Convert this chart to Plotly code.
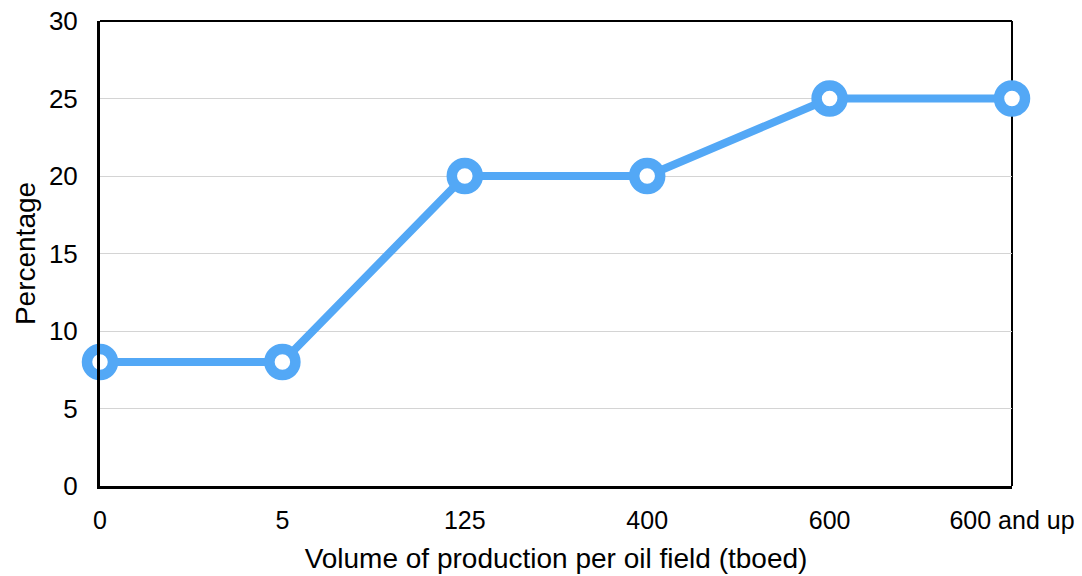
import plotly.graph_objects as go

categories = ["0", "5", "125", "400", "600", "600 and up"]
percentages = [8, 8, 20, 20, 25, 25]
y_ticks = [0, 5, 10, 15, 20, 25, 30]

blue = "#53a8f6"
fig = go.Figure(go.Scatter(
    x=list(range(len(categories))), y=percentages, mode="lines+markers",
    line=dict(color=blue, width=8),
    marker=dict(size=26, color="white", line=dict(color=blue, width=10.5)),
    cliponaxis=False,
))

fig.update_layout(
    width=1082, height=576,
    margin=dict(l=100, r=70, t=21, b=90),
    paper_bgcolor="white", plot_bgcolor="white",
    font=dict(family="Liberation Sans, Arial, sans-serif", size=26, color="black"),
    showlegend=False,
    xaxis=dict(
        range=[0, len(categories) - 1], tickmode="array",
        tickvals=list(range(len(categories))), ticktext=categories,
        showgrid=False, zeroline=False, showline=True, linecolor="black", linewidth=3,
        ticks="", ticklabelstandoff=10, automargin=False, ticklabeloverflow="allow",
        tickfont=dict(size=25),
        title=dict(text="Volume of production per oil field (tboed)", font=dict(size=28), standoff=16),
    ),
    yaxis=dict(
        range=[0, 30], tickvals=y_ticks, showgrid=True, gridcolor="#d4d4d4", gridwidth=1,
        zeroline=False, showline=True, linecolor="black", linewidth=3, ticks="",
        ticklabelstandoff=14, automargin=False, ticklabeloverflow="allow",
        tickfont=dict(size=26),
        title=dict(text="Percentage", font=dict(size=28), standoff=6),
    ),
    shapes=[
        dict(type="line", xref="paper", yref="paper", x0=0, x1=1, y0=1, y1=1,
             line=dict(color="black", width=2), layer="below"),
        dict(type="line", xref="paper", yref="paper", x0=1, x1=1, y0=0, y1=1,
             line=dict(color="black", width=2), layer="below"),
    ],
)

fig.write_html(
    "out.html",
    config={"displayModeBar": False},
    post_script="document.body.style.margin='0';document.body.style.overflow='hidden';",
)
